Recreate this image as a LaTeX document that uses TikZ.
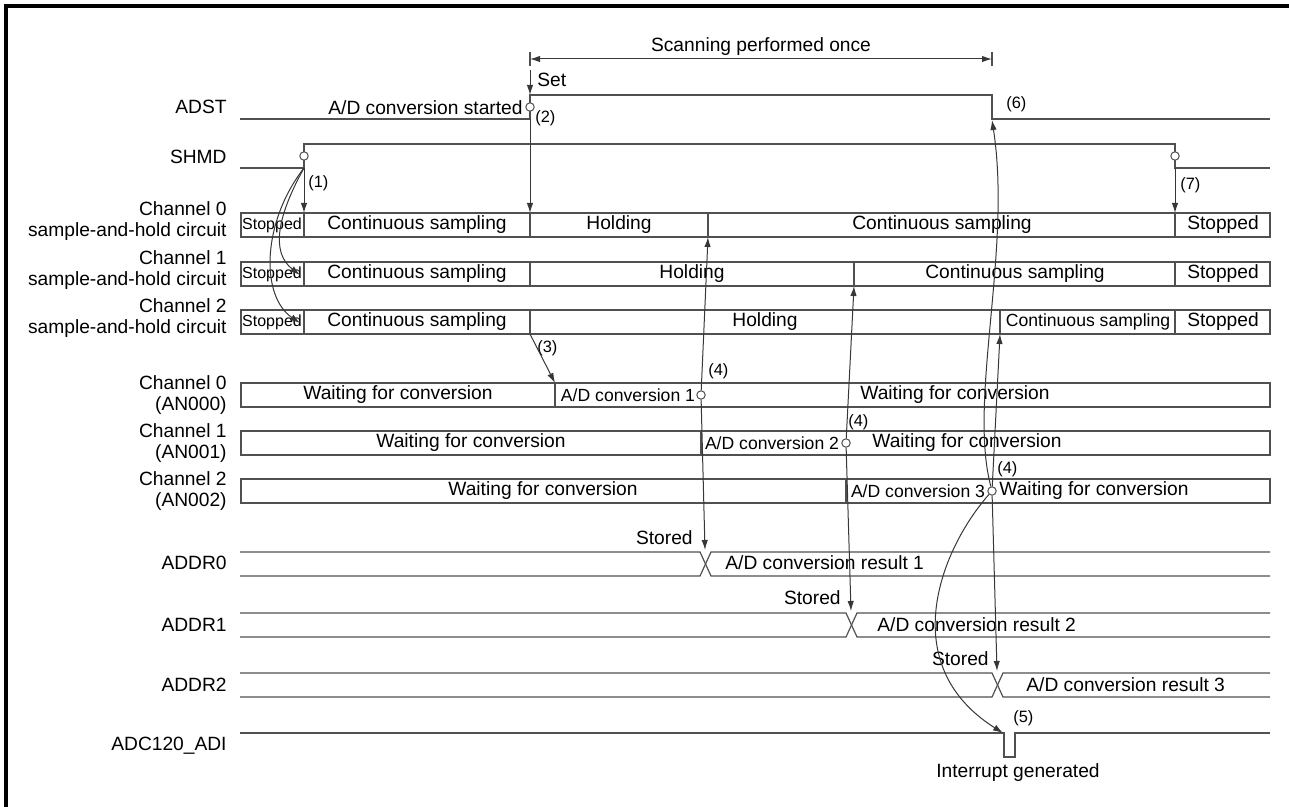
\documentclass[tikz,border=0pt]{standalone}
\usepackage{fontspec}
\setmainfont{Liberation Sans}
\usetikzlibrary{arrows.meta, calc}
\definecolor{linegray}{RGB}{80,80,80}
\definecolor{arrowgray}{RGB}{55,55,55}
\tikzset{
  sig/.style={draw=linegray, line width=0.6pt},
  cell/.style={draw=linegray, line width=0.6pt},
  lbl/.style={font=\fontsize{9.6}{10.5}\selectfont, align=right, anchor=east, inner sep=0pt},
  txt/.style={font=\fontsize{9.6}{10.5}\selectfont, inner sep=0pt},
  smalltxt/.style={font=\fontsize{8.8}{10}\selectfont, inner sep=0pt},
  tinytxt/.style={font=\fontsize{8}{9}\selectfont, inner sep=0pt},
  numtxt/.style={font=\fontsize{8.2}{9}\selectfont, inner sep=0pt, anchor=west},
  arrow/.style={-{Latex[length=5pt,width=3.2pt]}, draw=arrowgray, line width=0.5pt},
  dot/.style={circle, draw=linegray, fill=white, line width=0.5pt, inner sep=0pt, minimum size=4.2pt},
}

\begin{document}
\begin{tikzpicture}[x=0.5pt, y=-0.5pt]
  \useasboundingbox (0,0) rectangle (1289,807);
  % frame
  \draw[line width=1.6pt] (6,807) -- (6,6) -- (1289,6);

  % Signal names
  \node[lbl] (l-adst) at (227,107) {ADST};
  \node[lbl] (l-shmd) at (227,157) {SHMD};
  \node[lbl] (l-sh0) at (227,221) {Channel 0\\sample-and-hold circuit};
  \node[lbl] (l-sh1) at (227,270) {Channel 1\\sample-and-hold circuit};
  \node[lbl] (l-sh2) at (227,318) {Channel 2\\sample-and-hold circuit};
  \node[lbl] (l-an0) at (227,395) {Channel 0\\(AN000)};
  \node[lbl] (l-an1) at (227,443) {Channel 1\\(AN001)};
  \node[lbl] (l-an2) at (227,491) {Channel 2\\(AN002)};
  \node[lbl] (l-addr0) at (227,563) {ADDR0};
  \node[lbl] (l-addr1) at (227,625) {ADDR1};
  \node[lbl] (l-addr2) at (227,685) {ADDR2};
  \node[lbl] (l-adi) at (227,746) {ADC120\_ADI};

  % Scan span
  \coordinate (scanL) at (530,59);
  \coordinate (scanR) at (992,59);
  \draw[sig] (530,52) -- (530,66) (992,52) -- (992,66);
  \draw[arrow, {Latex[length=5pt,width=3.2pt]}-{Latex[length=5pt,width=3.2pt]}] (scanL) -- (scanR);
  \node[txt] (scan) at (761,47) {Scanning performed once};

  % ADST
  \coordinate (set-top) at (530,70);
  \coordinate (adst-hi) at (530,95);
  \draw[arrow] (set-top) -- (adst-hi);
  \node[txt, anchor=west] (set) at (537,80) {Set};
  \draw[sig] (240,119) -- (530,119) -- (530,95) -- (992,95) -- (992,119) -- (1270,119);
  \coordinate (adst-fall) at (992,120);
  \node[dot] (c-adst) at (530,107) {};
  \node[txt, anchor=east] (started) at (523,108) {A/D conversion started};
  \node[numtxt] (n2) at (535,118) {(2)};
  \node[numtxt] (n6) at (1006,104) {(6)};

  % SHMD
  \draw[sig] (240,168) -- (304,168) -- (304,144) -- (1175,144) -- (1175,168) -- (1270,168);
  \coordinate (shmd-rise) at (304,168);
  \coordinate (shmd-fall) at (1175,168);
  \node[dot] (c-shmd1) at (304,156) {};
  \node[dot] (c-shmd2) at (1175,156) {};
  \node[numtxt] (n1) at (308,183) {(1)};
  \node[numtxt] (n7) at (1180,185) {(7)};

  % Sample-and-hold circuits
  \draw[cell] (241,213) rectangle (1270,237);
  \draw[cell] (304,213) -- (304,237) (530,213) -- (530,237) (708,213) -- (708,237) (1175,213) -- (1175,237);
  \draw[cell] (241,262) rectangle (1270,286);
  \draw[cell] (304,262) -- (304,286) (530,262) -- (530,286) (854,262) -- (854,286) (1175,262) -- (1175,286);
  \draw[cell] (241,310) rectangle (1270,334);
  \draw[cell] (304,310) -- (304,334) (530,310) -- (530,334) (1000,310) -- (1000,334) (1175,310) -- (1175,334);
  \coordinate (sh0-stop) at (304,213);
  \coordinate (sh0-hold) at (530,213);
  \coordinate (sh0-samp) at (708,237);
  \coordinate (sh0-end) at (1175,213);
  \coordinate (sh1-stop) at (300,275);
  \coordinate (sh1-samp) at (854,286);
  \coordinate (sh2-stop) at (300,323);
  \coordinate (sh2-hold) at (530,334);
  \coordinate (sh2-samp) at (1000,334);

  \node[tinytxt] (sh0-a) at (272,225) {Stopped};
  \node[txt] (sh0-b) at (417,225) {Continuous sampling};
  \node[txt] (sh0-c) at (619,225) {Holding};
  \node[txt] (sh0-d) at (942,225) {Continuous sampling};
  \node[txt] (sh0-e) at (1223,225) {Stopped};
  \node[tinytxt] (sh1-a) at (272,274) {Stopped};
  \node[txt] (sh1-b) at (417,274) {Continuous sampling};
  \node[txt] (sh1-c) at (692,274) {Holding};
  \node[txt] (sh1-d) at (1015,274) {Continuous sampling};
  \node[txt] (sh1-e) at (1223,274) {Stopped};
  \node[tinytxt] (sh2-a) at (272,322) {Stopped};
  \node[txt] (sh2-b) at (417,322) {Continuous sampling};
  \node[txt] (sh2-c) at (765,322) {Holding};
  \node[smalltxt] (sh2-d) at (1088,322) {Continuous sampling};
  \node[txt] (sh2-e) at (1223,322) {Stopped};

  % A/D conversion per channel
  \draw[cell] (241,383) rectangle (1270,407);
  \draw[cell] (555,383) -- (555,407);
  \draw[cell] (241,431) rectangle (1270,455);
  \draw[cell] (701,431) -- (701,455);
  \draw[cell] (241,479) rectangle (1270,503);
  \draw[cell] (846,479) -- (846,503);
  \coordinate (an0-start) at (555,383);
  \node[txt] (an0-a) at (398,395) {Waiting for conversion};
  \node[smalltxt] (an0-b) at (628,395) {A/D conversion 1};
  \node[txt] (an0-c) at (955,395) {Waiting for conversion};
  \node[txt] (an1-a) at (471,443) {Waiting for conversion};
  \node[smalltxt] (an1-b) at (772,443) {A/D conversion 2};
  \node[txt] (an1-c) at (967,443) {Waiting for conversion};
  \node[txt] (an2-a) at (543,491) {Waiting for conversion};
  \node[smalltxt] (an2-b) at (918,491) {A/D conversion 3};
  \node[txt] (an2-c) at (1094,491) {Waiting for conversion};
  \node[dot] (c-an0) at (701,395) {};
  \node[dot] (c-an1) at (846,443) {};
  \node[dot] (c-an2) at (992,491) {};
  \node[numtxt] (n3) at (537,348) {(3)};
  \node[numtxt] (n4a) at (708,371) {(4)};
  \node[numtxt] (n4b) at (848,422) {(4)};
  \node[numtxt] (n4c) at (997,469) {(4)};

  % Result registers
  \draw[sig] (240,552) -- (700,552) -- (711,576) -- (1270,576);
  \draw[sig] (240,576) -- (700,576) -- (711,552) -- (1270,552);
  \draw[sig] (240,613) -- (846,613) -- (857,637) -- (1270,637);
  \draw[sig] (240,637) -- (846,637) -- (857,613) -- (1270,613);
  \draw[sig] (240,673) -- (992,673) -- (1003,697) -- (1270,697);
  \draw[sig] (240,697) -- (992,697) -- (1003,673) -- (1270,673);
  \coordinate (addr0-st) at (705,550);
  \coordinate (addr1-st) at (851,611);
  \coordinate (addr2-st) at (997,671);
  \node[txt, anchor=east] (st0) at (693,538) {Stored};
  \node[txt, anchor=east] (st1) at (841,598) {Stored};
  \node[txt, anchor=east] (st2) at (989,659) {Stored};
  \node[txt, anchor=west] (res0) at (725,563) {A/D conversion result 1};
  \node[txt, anchor=west] (res1) at (877,625) {A/D conversion result 2};
  \node[txt, anchor=west] (res2) at (1026,685) {A/D conversion result 3};

  % Interrupt
  \draw[sig] (240,733) -- (1004,733) -- (1004,757) -- (1015,757) -- (1015,733) -- (1270,733);
  \coordinate (adi-pulse) at (1003,733);
  \node[numtxt] (n5) at (1013,718) {(5)};
  \node[txt] (irq) at (1018,773) {Interrupt generated};

  % Event arrows
  \draw[arrow] (530,119) -- (sh0-hold);
  \draw[arrow] (shmd-rise) -- (sh0-stop);
  \draw[arrow] (shmd-fall) -- (sh0-end);
  \draw[arrow] (shmd-rise) .. controls (278,215) and (270,252) .. (sh1-stop);
  \draw[arrow] (shmd-rise) .. controls (262,222) and (260,296) .. (sh2-stop);
  \draw[arrow] (sh2-hold) -- (an0-start);
  \draw[arrow] (c-an0) -- (sh0-samp);
  \draw[arrow] (c-an0) -- (addr0-st);
  \draw[arrow] (c-an1) -- (sh1-samp);
  \draw[arrow] (c-an1) -- (addr1-st);
  \draw[arrow] (c-an2) -- (sh2-samp);
  \draw[arrow] (c-an2) -- (addr2-st);
  \draw[arrow] (c-an2) .. controls (940,550) and (895,665) .. (adi-pulse);
  \draw[arrow] (c-an2) .. controls (968,400) and (1012,250) .. (adst-fall);
\end{tikzpicture}
\end{document}
